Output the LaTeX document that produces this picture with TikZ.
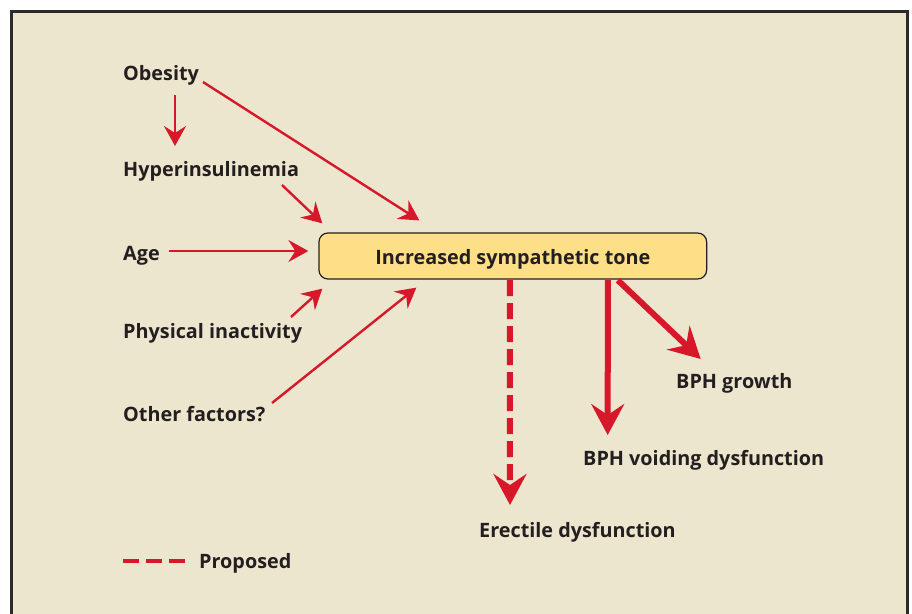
\documentclass[tikz,border=0pt]{standalone}
\usepackage{fontspec}
\setmainfont{Open Sans}
\usetikzlibrary{arrows.meta,calc}
\definecolor{bgbeige}{HTML}{EDE6CE}
\definecolor{boxyellow}{HTML}{FDDF88}
\definecolor{arrred}{HTML}{D7182A}
\definecolor{txt}{HTML}{231F20}
\definecolor{frame}{HTML}{2B2B2B}
\tikzset{
  lbl/.style={anchor=base west, inner sep=0pt, text=txt, font=\fontsize{19.8}{22}\selectfont\bfseries},
  thin/.style={draw=arrred, line width=2.4pt, -{Stealth[length=20pt, width=22pt, inset=7pt]}},
  thick/.style={draw=arrred, line width=6pt, -{Stealth[length=31pt, width=33pt, inset=11pt]}},
  boxstyle/.style={draw=txt, line width=1.2pt, fill=boxyellow, rounded corners=9pt, inner sep=0pt}
}
\begin{document}
\begin{tikzpicture}[x=1pt,y=-1pt]
\useasboundingbox (0,0) rectangle (912,613);
\begin{scope}
\clip (0,0) rectangle (912,613);
\fill[white] (0,0) rectangle (912,613);
\draw[frame, line width=3pt, fill=bgbeige] (11.5,11.5) rectangle (907,640);
\end{scope}
% central box
\node[boxstyle, minimum width=387.7pt, minimum height=46pt] (box) at (512.8,256) {};
\node[lbl, anchor=base] (boxtxt) at (512.8,264) {Increased sympathetic tone};
% labels
\node[lbl] (obes) at (123,80) {Obesity};
\node[lbl] (hyper) at (123,176) {Hyperinsulinemia};
\node[lbl] (age) at (123,260) {Age};
\node[lbl] (phys) at (123,338) {Physical inactivity};
\node[lbl] (other) at (123,421.7) {Other factors?};
\node[lbl] (bphg) at (676,388) {BPH growth};
\node[lbl] (bphv) at (583,465) {BPH voiding dysfunction};
\node[lbl] (erec) at (479,537) {Erectile dysfunction};
\node[lbl] (prop) at (199,568) {Proposed};
% connector ends
\coordinate (obesS) at (175,95);
\coordinate (hyperT) at (175,146);
\coordinate (obesR) at (203,82);
\coordinate (hyperR) at (282,185);
\coordinate (ageR) at (169,251);
\coordinate (physR) at (291,317);
\coordinate (otherR) at (272,403);
\coordinate (ervT) at (510,505);
\coordinate (bphvT) at (607.7,435);
\coordinate (bphgT) at (700.7,359);
\coordinate (legA) at (123,561);
\coordinate (legB) at (187,561);
% inputs
\draw[thin] (obesS) -- (hyperT);
\draw[thin] (obesR) -- ([shift={(101,-12)}]box.north west);
\draw[thin] (hyperR) -- ([shift={(4,-9)}]box.north west);
\draw[thin] (ageR) -- ([shift={(-10,-5)}]box.west);
\draw[thin] (physR) -- ([shift={(4,9)}]box.south west);
\draw[thin] (otherR) -- ([shift={(98,8)}]box.south west);
% outputs
\draw[thick, dash pattern=on 16pt off 7pt] ([shift={(-3,0.6)}]box.south) -- (ervT);
\draw[thick] ([shift={(95,0.6)}]box.south) -- (bphvT);
\draw[thick] ([shift={(105,0.6)}]box.south) -- (bphgT);
% legend
\draw[arrred, line width=4pt, dash pattern=on 16pt off 7pt] (legA) -- (legB);
\end{tikzpicture}
\end{document}
